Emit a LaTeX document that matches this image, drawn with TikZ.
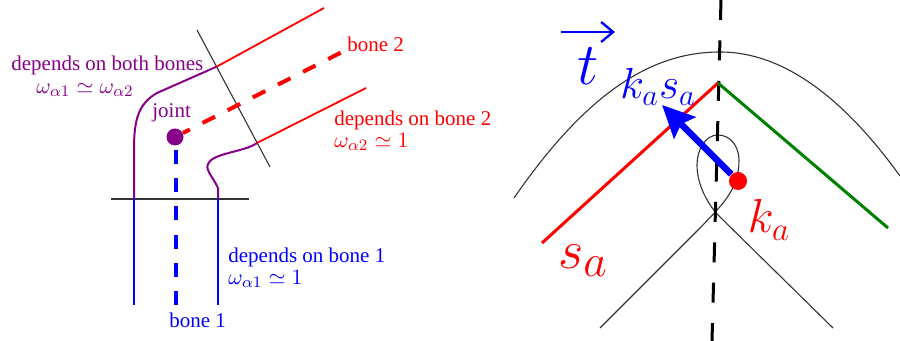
\documentclass[tikz,border=0pt]{standalone}
\usepackage{amsmath,amssymb}
\usepackage{xcolor}
\usepackage{fontspec}
\setmainfont{Liberation Serif}
\usetikzlibrary{arrows.meta}
\definecolor{bonepurple}{RGB}{136,0,136}
\definecolor{bonegreen}{RGB}{0,128,0}

\begin{document}
\begin{tikzpicture}[
    x=0.5pt, y=-0.5pt,
    thinline/.style={draw=black!80, line width=0.55pt},
    bonered/.style={draw=red, line width=0.9pt},
    boneblue/.style={draw=blue, line width=1pt},
    bonemix/.style={draw=bonepurple, line width=1pt},
    axisred/.style={draw=red, line width=2pt, dash pattern=on 7pt off 7.1pt},
    axisblue/.style={draw=blue, line width=2pt, dash pattern=on 7pt off 7.1pt},
    axisblack/.style={draw=black, line width=1.5pt, dash pattern=on 10pt off 10.2pt},
    segment/.style={line width=1.5pt},
    dot/.style={circle, inner sep=0pt, minimum size=#1},
    label/.style={inner sep=0pt, font=\fontsize{10.5}{13}\selectfont},
    weight/.style={inner sep=0pt, font=\fontsize{11}{13}\selectfont}
]
    \useasboundingbox (0,0) rectangle (900,341);

    % left part: the bent arm
    \coordinate (outerbottom) at (134,305);
    \coordinate (outerlow) at (134,199);
    \coordinate (outerhigh) at (217,66.5);
    \coordinate (outerend) at (324,8);
    \coordinate (innerbottom) at (218,305);
    \coordinate (innerlow) at (218,199);
    \coordinate (innerhigh) at (257,143);
    \coordinate (innerend) at (366,88);
    \coordinate (cutoneleft) at (111,199);
    \coordinate (cutoneright) at (249,199);
    \coordinate (cuttwotop) at (197,30);
    \coordinate (cuttwobottom) at (270,167);
    \coordinate (boneonebottom) at (175.5,305);
    \coordinate (boneonetop) at (175.5,150);
    \coordinate (bonetwoend) at (340.7,52.7);

    \node[dot=8.5pt, fill=bonepurple] (joint) at (175,137) {};

    \draw[thinline] (cutoneleft) -- (cutoneright);
    \draw[thinline] (cuttwotop) -- (cuttwobottom);
    \draw[boneblue] (outerbottom) -- (outerlow);
    \draw[boneblue] (innerbottom) -- (innerlow);
    \draw[bonered] (outerhigh) -- (outerend);
    \draw[bonered] (innerhigh) -- (innerend);
    \draw[bonemix] (outerlow) -- (134,150) .. controls (134,120) and (138,104) .. (157,93) -- (outerhigh);
    \draw[bonemix] (innerlow) -- (218,188) .. controls (213,177) and (205,170) .. (208,164) .. controls (212,153) and (245,152) .. (innerhigh);
    \draw[axisblue] (boneonebottom) -- (boneonetop);
    \draw[axisred] (bonetwoend) -- (joint);

    \node[label, text=red, anchor=west] (bonetwo) at (347,44) {bone 2};
    \node[label, text=blue, anchor=west] (boneone) at (169,320) {bone 1};
    \node[label, text=bonepurple, anchor=west] (jointlabel) at (152,113) {joint};
    \node[label, text=bonepurple, anchor=west] (bothtext) at (11,65) {depends on both bones};
    \node[weight, text=bonepurple, anchor=west] (bothweight) at (36,90) {$\omega_{\alpha 1} \simeq \omega_{\alpha 2}$};
    \node[label, text=red, anchor=west] (twotext) at (334,120) {depends on bone 2};
    \node[weight, text=red, anchor=west] (twoweight) at (334,142) {$\omega_{\alpha 2} \simeq 1$};
    \node[label, text=blue, anchor=west] (onetext) at (228,257) {depends on bone 1};
    \node[weight, text=blue, anchor=west] (oneweight) at (228,279) {$\omega_{\alpha 1} \simeq 1$};

    % right part: the skeleton and the vertex
    \coordinate (axistop) at (721,0);
    \coordinate (axisbottom) at (712,341);
    \coordinate (apex) at (718,83);
    \coordinate (redend) at (542,243);
    \coordinate (greenend) at (888,228);
    \coordinate (tailstart) at (561,32);
    \coordinate (tailend) at (615,32);
    \coordinate (tiptip) at (662,105);

    \draw[thinline] (514,198) .. controls (590,88) and (655,52) .. (720,52) .. controls (785,52) and (845,100) .. (900,176);
    \draw[thinline] (600,328) -- (700,228) .. controls (722,205) and (739,190) .. (739,160) .. controls (739,146) and (730,135) .. (718,135) .. controls (705,135) and (697,150) .. (697,165) .. controls (697,185) and (708,205) .. (720,217) -- (833,328);
    \draw[axisblack] (axistop) -- (axisbottom);
    \draw[draw=red, segment] (redend) -- (apex);
    \draw[draw=bonegreen, segment] (apex) -- (greenend);

    \node[dot=9pt, fill=red] (vertex) at (738,181) {};

    \draw[draw=blue, line width=3.3pt, -{Stealth[length=16pt,width=15pt,inset=2.5pt]}] (vertex) -- (tiptip);
    \draw[draw=blue, line width=1.2pt, -{Straight Barb[length=6pt,width=10pt]}] (tailstart) -- (tailend);

    \node[inner sep=0pt, text=blue, font=\Huge, scale=1.2] (tlabel) at (588,66) {$t$};
    \node[inner sep=0pt, text=blue, font=\huge, scale=1.05] (kslabel) at (658,87) {$k_a s_a$};
    \node[inner sep=0pt, text=red, font=\Huge, scale=1.1] (salabel) at (583,261) {$s_a$};
    \node[inner sep=0pt, text=red, font=\huge, scale=1.15] (kalabel) at (769,220) {$k_a$};
\end{tikzpicture}
\end{document}
